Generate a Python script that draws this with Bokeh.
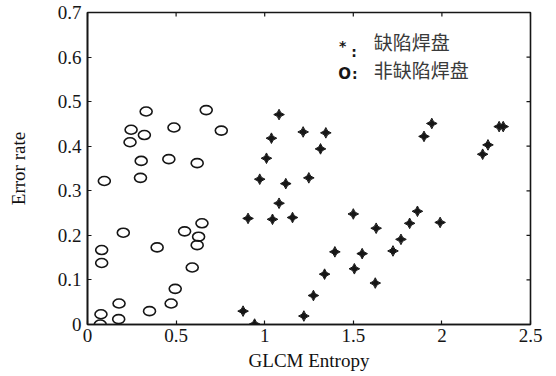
import numpy as np
from bokeh.plotting import figure
from bokeh.models import FixedTicker, NumeralTickFormatter, Label, Range1d
from bokeh.embed import file_html
from bokeh.resources import INLINE

# defective pads (stars)
defect_x = [1.081, 1.038, 1.217, 1.345, 1.315, 1.010, 0.972, 1.119, 1.249, 1.081,
            0.906, 1.044, 1.157, 1.500, 1.629, 1.396, 1.550, 1.506, 1.338, 1.624,
            1.275, 0.878, 1.221, 0.943, 1.818, 1.862, 1.990, 1.769, 1.724, 1.943,
            1.899, 2.323, 2.346, 2.260, 2.230]
defect_y = [0.471, 0.418, 0.432, 0.430, 0.394, 0.373, 0.326, 0.316, 0.329, 0.272,
            0.238, 0.236, 0.240, 0.248, 0.216, 0.163, 0.159, 0.125, 0.113, 0.093,
            0.065, 0.030, 0.019, 0.001, 0.227, 0.254, 0.229, 0.191, 0.165, 0.451,
            0.422, 0.444, 0.444, 0.403, 0.382]

# non-defective pads (circles)
good_x = [0.331, 0.670, 0.246, 0.321, 0.488, 0.755, 0.240, 0.303, 0.459, 0.619,
          0.095, 0.299, 0.202, 0.080, 0.080, 0.393, 0.548, 0.646, 0.627, 0.619,
          0.591, 0.495, 0.472, 0.178, 0.350, 0.076, 0.176, 0.072]
good_y = [0.478, 0.481, 0.437, 0.425, 0.442, 0.435, 0.409, 0.367, 0.371, 0.362,
          0.322, 0.329, 0.206, 0.167, 0.138, 0.173, 0.209, 0.227, 0.197, 0.178,
          0.128, 0.080, 0.047, 0.047, 0.030, 0.023, 0.012, 0.000]

x_ticks = [0, 0.5, 1, 1.5, 2, 2.5]
y_ticks = [0, 0.1, 0.2, 0.3, 0.4, 0.5, 0.6, 0.7]
x_title = "GLCM Entropy"
y_title = "Error rate"
legend_marks = ["*", "O"]
legend_sep = ":"
legend_names = ["缺陷焊盘", "非缺陷焊盘"]

INK = "#161616"
SERIF = "Liberation Serif"

W, H = 554, 374
p = figure(width=W, height=H, output_backend="svg", toolbar_location=None,
           x_range=Range1d(x_ticks[0], x_ticks[-1]), y_range=Range1d(y_ticks[0], y_ticks[-1]),
           min_border_left=87, min_border_right=W - 530, min_border_top=12,
           min_border_bottom=H - 324,
           background_fill_color="white", border_fill_color="white")
p.grid.visible = False
p.outline_line_color = INK
p.outline_line_width = 1.6

for ax, ticks in ((p.xaxis[0], x_ticks), (p.yaxis[0], y_ticks)):
    ax.ticker = FixedTicker(ticks=ticks)
    ax.formatter = NumeralTickFormatter(format="0.[0]")
    ax.major_tick_in = 4
    ax.major_tick_out = 0
    ax.minor_tick_line_color = None
    ax.axis_line_color = INK
    ax.axis_line_width = 1.6
    ax.major_tick_line_color = INK
    ax.major_tick_line_width = 1.2
    ax.major_label_text_font = SERIF
    ax.major_label_text_font_size = "19px"
    ax.major_label_text_color = INK
    ax.axis_label_text_font = SERIF
    ax.axis_label_text_font_size = "19px"
    ax.axis_label_text_font_style = "normal"
    ax.axis_label_text_color = "#111111"

p.xaxis.axis_label = x_title
p.yaxis.axis_label = y_title
p.xaxis.major_label_standoff = 4
p.xaxis.axis_label_standoff = 5
p.yaxis.major_label_standoff = 6
p.yaxis.axis_label_standoff = 26

# inward ticks on the top and right edges (markers clipped by the frame)
p.scatter(x=x_ticks, y=[y_ticks[-1]] * len(x_ticks), marker="dash", angle=np.pi / 2,
          size=8, line_color=INK, line_width=1.2)
p.scatter(x=[x_ticks[-1]] * len(y_ticks), y=y_ticks, marker="dash",
          size=8, line_color=INK, line_width=1.2)

p.ellipse(x=good_x, y=good_y, width=12, height=9, width_units="screen", height_units="screen",
          fill_color=None, line_color=INK, line_width=1.6)
p.scatter(x=defect_x, y=defect_y, marker="square_pin", angle=np.pi / 4, size=7.5,
          fill_color=INK, line_color=INK, line_width=1)

# legend text block
MARK_FONT = "DejaVu Sans"
p.add_layout(Label(x=1.42, y=0.624, text=legend_marks[0], text_font=MARK_FONT,
                   text_font_style="bold", text_font_size="14px", text_color=INK,
                   text_baseline="alphabetic"))
p.add_layout(Label(x=1.488, y=0.612, text=legend_sep, text_font=MARK_FONT,
                   text_font_style="bold", text_font_size="14px", text_color=INK,
                   text_baseline="alphabetic"))
p.add_layout(Label(x=1.415, y=0.563, text=legend_marks[1], text_font=MARK_FONT,
                   text_font_style="bold", text_font_size="15px", text_color=INK,
                   text_baseline="alphabetic"))
p.add_layout(Label(x=1.493, y=0.563, text=legend_sep, text_font=MARK_FONT,
                   text_font_style="bold", text_font_size="14px", text_color=INK,
                   text_baseline="alphabetic"))
p.add_layout(Label(x=1.615, y=0.636, text=legend_names[0], text_font="Noto Sans CJK SC",
                   text_font_size="19px", text_color="#3a3a3a", text_baseline="middle"))
p.add_layout(Label(x=1.615, y=0.572, text=legend_names[1], text_font="Noto Sans CJK SC",
                   text_font_size="19px", text_color="#3a3a3a", text_baseline="middle"))

open("out.html", "w").write(file_html(p, INLINE))
